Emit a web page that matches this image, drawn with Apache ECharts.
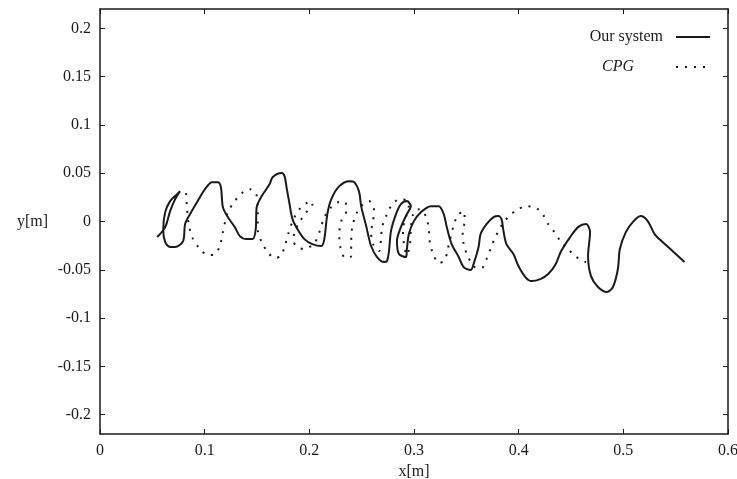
<!DOCTYPE html>
<html>
<head>
<meta charset="utf-8">
<script src="https://cdn.jsdelivr.net/npm/echarts@6/dist/echarts.min.js"></script>
<style>
  html, body { margin: 0; padding: 0; background: #fff; }
  #chart { width: 737px; height: 479px; }
</style>
</head>
<body>
<div id="chart"></div>
<script>
// "Our system" trajectory (x, y in metres)
var ourX = [0.0547, 0.0623, 0.0670, 0.0718, 0.0765, 0.0737, 0.0670, 0.0623, 0.0604, 0.0623,
    0.0670, 0.0718, 0.0794, 0.0813, 0.0860, 0.0955, 0.1003, 0.1069, 0.1126, 0.1155,
    0.1174, 0.1221, 0.1288, 0.1336, 0.1402, 0.1459, 0.1488, 0.1497, 0.1545, 0.1621,
    0.1649, 0.1735, 0.1763, 0.1782, 0.1811, 0.1839, 0.1887, 0.1953, 0.2029, 0.2115,
    0.2143, 0.2172, 0.2210, 0.2286, 0.2381, 0.2429, 0.2476, 0.2495, 0.2543, 0.2590,
    0.2647, 0.2714, 0.2742, 0.2761, 0.2780, 0.2828, 0.2875, 0.2932, 0.2970, 0.2932,
    0.2875, 0.2837, 0.2856, 0.2923, 0.2932, 0.2951, 0.2999, 0.3066, 0.3161, 0.3237,
    0.3284, 0.3313, 0.3360, 0.3427, 0.3474, 0.3541, 0.3569, 0.3617, 0.3636, 0.3693,
    0.3760, 0.3807, 0.3836, 0.3855, 0.3883, 0.3950, 0.3998, 0.4064, 0.4121, 0.4207,
    0.4282, 0.4349, 0.4406, 0.4492, 0.4568, 0.4644, 0.4682, 0.4663, 0.4691, 0.4758,
    0.4843, 0.4901, 0.4948, 0.4967, 0.5024, 0.5090, 0.5166, 0.5233, 0.5299, 0.5375,
    0.5470, 0.5584];
var ourY = [-0.0161, -0.0058, 0.0108, 0.0232, 0.0314, 0.0283, 0.0211, 0.0097, -0.0079, -0.0213,
    -0.0265, -0.0265, -0.0203, -0.0027, 0.0076, 0.0252, 0.0335, 0.0407, 0.0407, 0.0356,
    0.0149, 0.0046, -0.0058, -0.0151, -0.0182, -0.0182, -0.0079, 0.0149, 0.0263, 0.0387,
    0.0459, 0.0501, 0.0469, 0.0356, 0.0180, 0.0025, -0.0079, -0.0182, -0.0234, -0.0254,
    -0.0182, 0.0077, 0.0232, 0.0366, 0.0418, 0.0408, 0.0304, 0.0159, -0.0047, -0.0254,
    -0.0368, -0.0420, -0.0409, -0.0306, -0.0099, 0.0077, 0.0180, 0.0211, 0.0159, 0.0077,
    -0.0058, -0.0203, -0.0337, -0.0368, -0.0285, -0.0130, 0.0004, 0.0097, 0.0159, 0.0159,
    0.0077, -0.0058, -0.0234, -0.0368, -0.0472, -0.0503, -0.0441, -0.0265, -0.0130, -0.0027,
    0.0046, 0.0056, 0.0025, -0.0099, -0.0234, -0.0337, -0.0461, -0.0575, -0.0616, -0.0596,
    -0.0544, -0.0451, -0.0306, -0.0161, -0.0058, -0.0027, -0.0110, -0.0358, -0.0565, -0.0678,
    -0.0730, -0.0678, -0.0492, -0.0285, -0.0110, -0.0006, 0.0056, 0.0004, -0.0130, -0.0213,
    -0.0306, -0.0420];

// CPG trajectory
var cpgX = [0.0822, 0.0832, 0.0851, 0.0889, 0.0955, 0.1031, 0.1098, 0.1145, 0.1174, 0.1221,
    0.1288, 0.1355, 0.1431, 0.1488, 0.1507, 0.1507, 0.1545, 0.1602, 0.1668, 0.1725,
    0.1763, 0.1801, 0.1849, 0.1906, 0.1973, 0.2020, 0.2029, 0.1963, 0.1906, 0.1858,
    0.1849, 0.1887, 0.1953, 0.2048, 0.2096, 0.2144, 0.2210, 0.2286, 0.2343, 0.2353,
    0.2305, 0.2286, 0.2296, 0.2343, 0.2400, 0.2400, 0.2410, 0.2457, 0.2514, 0.2571,
    0.2619, 0.2609, 0.2590, 0.2609, 0.2666, 0.2685, 0.2695, 0.2733, 0.2780, 0.2837,
    0.2894, 0.2951, 0.2923, 0.2894, 0.2904, 0.2932, 0.2961, 0.2970, 0.2989, 0.3037,
    0.3085, 0.3123, 0.3142, 0.3151, 0.3180, 0.3237, 0.3294, 0.3322, 0.3351, 0.3380,
    0.3418, 0.3475, 0.3484, 0.3465, 0.3475, 0.3513, 0.3580, 0.3646, 0.3693, 0.3731,
    0.3769, 0.3817, 0.3864, 0.3921, 0.3978, 0.4073, 0.4168, 0.4235, 0.4282, 0.4349,
    0.4406, 0.4473, 0.4539, 0.4615, 0.4644];
var cpgY = [0.0294, 0.0128, -0.0048, -0.0182, -0.0285, -0.0347, -0.0337, -0.0254, -0.0110, 0.0097,
    0.0211, 0.0294, 0.0335, 0.0294, 0.0180, -0.0079, -0.0213, -0.0316, -0.0378, -0.0358,
    -0.0265, -0.0120, 0.0025, 0.0128, 0.0190, 0.0211, 0.0170, 0.0087, -0.0006, -0.0110,
    -0.0203, -0.0265, -0.0285, -0.0223, -0.0110, 0.0046, 0.0149, 0.0201, 0.0201, 0.0108,
    0.0004, -0.0130, -0.0265, -0.0378, -0.0358, -0.0234, -0.0058, 0.0097, 0.0180, 0.0211,
    0.0118, 0.0004, -0.0110, -0.0234, -0.0306, -0.0182, -0.0058, 0.0056, 0.0159, 0.0221,
    0.0232, 0.0170, 0.0046, -0.0079, -0.0234, -0.0347, -0.0244, -0.0079, 0.0066, 0.0128,
    0.0108, 0.0025, -0.0089, -0.0213, -0.0327, -0.0430, -0.0399, -0.0285, -0.0161, -0.0037,
    0.0066, 0.0108, 0.0004, -0.0110, -0.0234, -0.0358, -0.0472, -0.0482, -0.0389, -0.0285,
    -0.0182, -0.0079, 0.0004, 0.0066, 0.0118, 0.0159, 0.0139, 0.0066, -0.0027, -0.0120,
    -0.0213, -0.0285, -0.0358, -0.0410, -0.0420];

var xTicks = [0, 0.1, 0.2, 0.3, 0.4, 0.5, 0.6];
var yTicks = [-0.2, -0.15, -0.1, -0.05, 0, 0.05, 0.1, 0.15, 0.2];

function zip(xs, ys) {
    var out = [];
    for (var i = 0; i < xs.length; i++) {
        out.push([xs[i], ys[i]]);
    }
    return out;
}

var font = '"Liberation Serif", "DejaVu Serif", serif';
var ink = '#1a1a1a';

const chartDom = document.getElementById('chart');
const chart = echarts.init(chartDom);

// shared frame styles
var frameLine = { show: true, onZero: false, lineStyle: { color: ink, width: 1.5 } };
var frameTick = { show: true, inside: true, length: 5, lineStyle: { color: ink } };

const option = {
    backgroundColor: '#fff',
    animation: false,
    grid: {
        left: 100,
        right: 9,
        top: 9,
        bottom: 45,
        outerBoundsMode: 'none'
    },
    legend: [{
        data: ['Our system'],
        right: 21,
        top: 24,
        align: 'right',
        itemWidth: 34,
        itemStyle: { opacity: 0 },
        textStyle: { fontFamily: font, fontSize: 16, color: ink, padding: [0, 8, 0, 0] }
    }, {
        data: ['CPG'],
        right: 21,
        top: 54,
        align: 'right',
        itemWidth: 34,
        itemStyle: { opacity: 0 },
        textStyle: { fontFamily: font, fontSize: 16, color: ink, fontStyle: 'italic', padding: [0, 37, 0, 0] }
    }],
    xAxis: [{
        type: 'value',
        min: 0,
        max: 0.6,
        interval: 0.1,
        name: 'x[m]',
        nameLocation: 'middle',
        nameGap: 24,
        nameTextStyle: { fontFamily: font, fontSize: 16, color: ink },
        axisLine: frameLine,
        axisTick: frameTick,
        axisLabel: {
            margin: 9,
            fontFamily: font,
            fontSize: 16,
            color: ink,
            customValues: xTicks
        },
        splitLine: { show: false }
    }, {
        type: 'value',
        position: 'top',
        min: 0,
        max: 0.6,
        interval: 0.1,
        axisLine: frameLine,
        axisTick: frameTick,
        axisLabel: { show: false },
        splitLine: { show: false }
    }],
    yAxis: [{
        type: 'value',
        min: -0.22,
        max: 0.22,
        name: 'y[m]',
        nameLocation: 'middle',
        nameRotate: 0,
        nameGap: 52,
        nameTextStyle: { fontFamily: font, fontSize: 16, color: ink },
        axisLine: frameLine,
        axisTick: { show: true, inside: true, length: 5, lineStyle: { color: ink }, customValues: yTicks },
        axisLabel: {
            margin: 9,
            fontFamily: font,
            fontSize: 16,
            color: ink,
            customValues: yTicks,
            formatter: function (v) {
                return String(Math.round(v * 100) / 100);
            }
        },
        splitLine: { show: false }
    }, {
        type: 'value',
        position: 'right',
        min: -0.22,
        max: 0.22,
        axisLine: frameLine,
        axisTick: { show: true, inside: true, length: 5, lineStyle: { color: ink }, customValues: yTicks },
        axisLabel: { show: false },
        splitLine: { show: false }
    }],
    series: [
        {
            name: 'Our system',
            type: 'line',
            symbol: 'none',
            smooth: 0.3,
            lineStyle: { color: ink, width: 2 },
            itemStyle: { color: ink },
            data: zip(ourX, ourY)
        },
        {
            name: 'CPG',
            type: 'line',
            symbol: 'none',
            smooth: 0.3,
            lineStyle: { color: ink, width: 2, type: [2, 7] },
            itemStyle: { color: ink },
            data: zip(cpgX, cpgY)
        }
    ]
};

option && chart.setOption(option);
</script>
</body>
</html>
